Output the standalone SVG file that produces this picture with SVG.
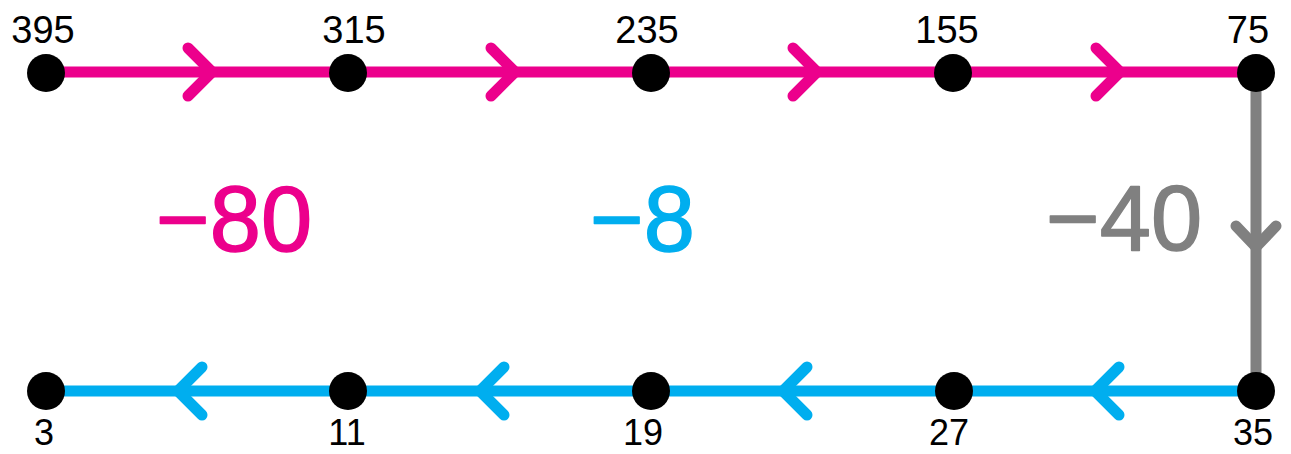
<svg xmlns="http://www.w3.org/2000/svg" width="1291" height="454" viewBox="0 0 1291 454">
  <style>
    .line { fill: none; stroke-width: 11; }
    .chev { fill: none; stroke-width: 11; stroke-linecap: round; stroke-linejoin: round; }
    .pink { stroke: #EC008C; }
    .blue { stroke: #00AEEF; }
    .grey { stroke: #808080; }
    .node { fill: #000000; }
    .num { font-family: "Liberation Sans", Arial, sans-serif; font-size: 38px; fill: #000000; text-anchor: middle; }
    .low { font-size: 36px; }
    .big { font-family: "Liberation Sans", Arial, sans-serif; font-size: 92px; stroke-width: 1.5; stroke-linejoin: round; }
  </style>

  <g id="connectors">
    <!-- top row: 395 to 75 -->
    <line class="line pink" x1="46" y1="72" x2="1256" y2="72"/>
    <polyline class="chev pink" points="188,48 212,72 188,96"/>
    <polyline class="chev pink" points="491,48 515,72 491,96"/>
    <polyline class="chev pink" points="793,48 817,72 793,96"/>
    <polyline class="chev pink" points="1096,48 1120,72 1096,96"/>
    <!-- right side: 75 down to 35 -->
    <line class="line grey" x1="1256" y1="72" x2="1256" y2="391"/>
    <polyline class="chev grey" points="1236,226 1256,247 1276,226"/>
    <!-- bottom row: 35 to 3 -->
    <line class="line blue" x1="46" y1="391" x2="1256" y2="391"/>
    <polyline class="chev blue" points="202,367 178,391 202,415"/>
    <polyline class="chev blue" points="504,367 480,391 504,415"/>
    <polyline class="chev blue" points="807,367 783,391 807,415"/>
    <polyline class="chev blue" points="1119,367 1095,391 1119,415"/>
  </g>

  <g id="n395"><circle class="node" cx="46" cy="73" r="19"/><text class="num" x="43" y="43">395</text></g>
  <g id="n315"><circle class="node" cx="348" cy="73" r="19"/><text class="num" x="354" y="43">315</text></g>
  <g id="n235"><circle class="node" cx="651" cy="73" r="19"/><text class="num" x="647" y="43">235</text></g>
  <g id="n155"><circle class="node" cx="953" cy="73" r="19"/><text class="num" x="947" y="43">155</text></g>
  <g id="n75"><circle class="node" cx="1256" cy="73" r="19"/><text class="num" x="1248" y="43">75</text></g>

  <g id="n35"><circle class="node" cx="1256" cy="391" r="19"/><text class="num low" x="1253" y="445">35</text></g>
  <g id="n27"><circle class="node" cx="954" cy="391" r="19"/><text class="num low" x="949" y="445">27</text></g>
  <g id="n19"><circle class="node" cx="651" cy="391" r="19"/><text class="num low" x="643" y="445">19</text></g>
  <g id="n11"><circle class="node" cx="348" cy="391" r="19"/><text class="num low" x="347" y="445">11</text></g>
  <g id="n3"><circle class="node" cx="46" cy="391" r="19"/><text class="num low" x="44" y="445">3</text></g>

  <g id="differences">
    <text class="big" x="156" y="251" fill="#EC008C" stroke="#EC008C">−80</text>
    <text class="big" x="590" y="251" fill="#00AEEF" stroke="#00AEEF">−8</text>
    <text class="big" x="1046" y="250" fill="#808080" stroke="#808080">−40</text>
  </g>
</svg>
